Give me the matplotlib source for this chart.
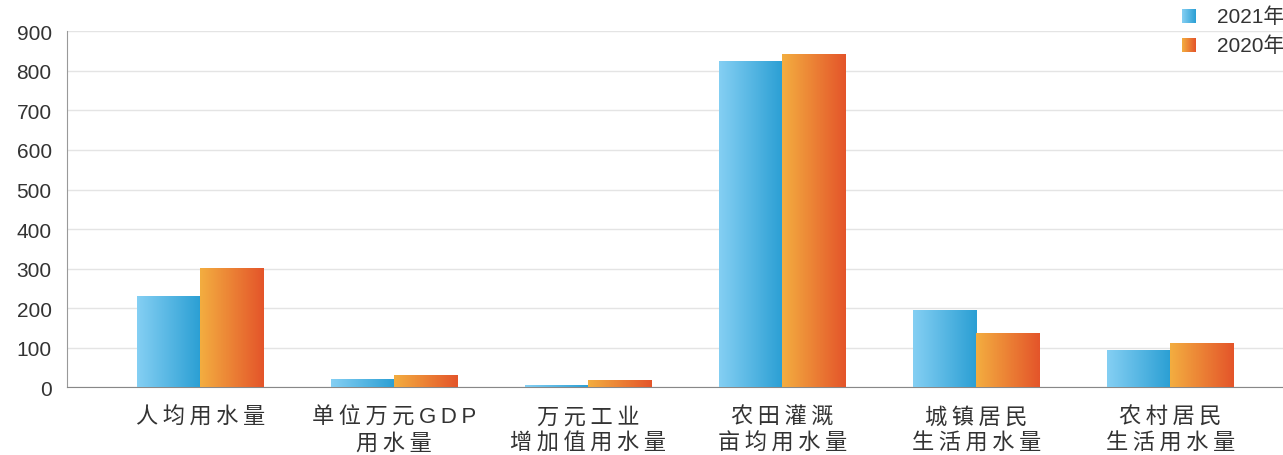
import numpy as np
import matplotlib
matplotlib.use('Agg')
import matplotlib.pyplot as plt
from matplotlib.colors import LinearSegmentedColormap

plt.rcParams['font.family'] = ['Liberation Sans', 'Noto Sans CJK SC', 'DejaVu Sans']

categories = ['人均用水量', '单位万元GDP\n用水量', '万元工业\n增加值用水量',
              '农田灌溉\n亩均用水量', '城镇居民\n生活用水量', '农村居民\n生活用水量']
y2021 = [229, 19, 3.5, 822, 194, 92]
y2020 = [299, 28, 16, 841, 134, 111]
series = ['2021年', '2020年']

blue = LinearSegmentedColormap.from_list('b', ['#84cff3', '#2b9fd4'])
orange = LinearSegmentedColormap.from_list('o', ['#f3ad40', '#e4552a'])
grad = np.linspace(0, 1, 64).reshape(1, -1)

fig = plt.figure(figsize=(12.83, 4.56), dpi=100)
ax = fig.add_axes([67 / 1283, 1 - 388.3 / 456, 1 - 67 / 1283, (388.3 - 32.3) / 456])

x = np.arange(len(categories))
w = 0.325
bars1 = ax.bar(x - w / 2, y2021, w, color='none', zorder=3)
bars2 = ax.bar(x + w / 2, y2020, w, color='none', zorder=3)

# gradient fill on each bar
for bars, cmap in [(bars1, blue), (bars2, orange)]:
    for b in bars:
        x0, y0 = b.get_x(), b.get_y()
        ax.imshow(grad, cmap=cmap, aspect='auto', zorder=3,
                  extent=[x0, x0 + b.get_width(), y0, y0 + b.get_height()])

# spaced-out labels like the original
sp = '\u2009'
labels = ['\n'.join(sp.join(line) for line in c.split('\n')) for c in categories]

ax.set_xlim(-0.686, 5.58)
ax.set_ylim(0, 900)
ax.set_yticks(range(0, 901, 100))
ax.set_xticks(x)
ax.set_xticklabels(labels, fontsize=16, color='#333333', linespacing=1.3)
ax.tick_params(axis='x', length=0, pad=14)
ax.tick_params(axis='y', length=0, pad=11, labelsize=15, labelcolor='#333333')
ax.grid(axis='y', color='#e4e4e4', lw=1, zorder=0)
for s in ['top', 'right']:
    ax.spines[s].set_visible(False)
ax.spines['left'].set_color('#999999')
ax.spines['bottom'].set_color('#888888')

# legend in top right corner
for i, (lab, cmap) in enumerate(zip(series, [blue, orange])):
    top = 10 + i * 29
    lax = fig.add_axes([1182 / 1283, 1 - (top + 14) / 456, 14 / 1283, 14 / 456])
    lax.imshow(grad, cmap=cmap, aspect='auto')
    lax.axis('off')
    fig.text(1217 / 1283, 1 - (top + 7) / 456, lab, fontsize=15, color='#333333', va='center')

fig.savefig('out.png', dpi=100)
